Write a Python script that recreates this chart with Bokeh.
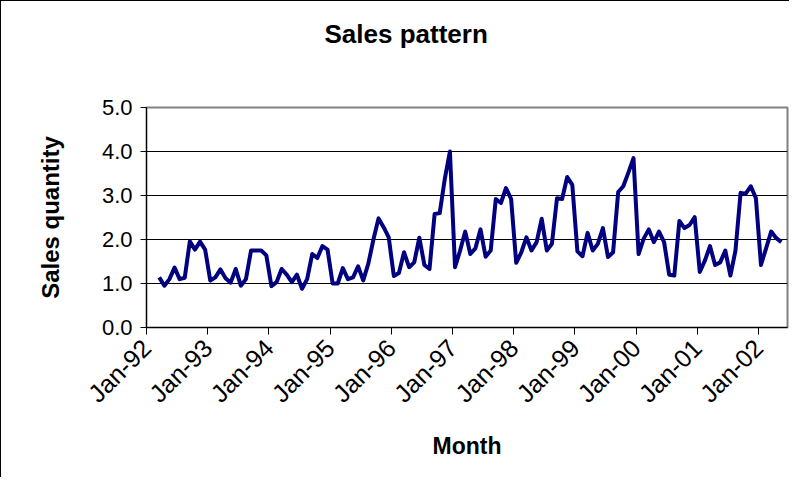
import pandas as pd
from bokeh.plotting import figure
from bokeh.models import Range1d, FixedTicker, NumeralTickFormatter, Title, ColumnDataSource
from bokeh.embed import file_html
from bokeh.resources import INLINE
from math import pi

# ---- data ----
start_month = "1992-03"
sales = [
    1.14, 0.95, 1.10, 1.36, 1.10, 1.13, 1.96, 1.77, 1.95, 1.77, 1.07, 1.14, 1.32, 1.12, 1.02, 1.33, 0.95, 1.10, 1.75, 1.75,
    1.75, 1.64, 0.94, 1.03, 1.33, 1.20, 1.03, 1.20, 0.88, 1.10, 1.67, 1.58, 1.85, 1.77, 1.00, 1.00, 1.35, 1.10, 1.14, 1.39, 1.07,
    1.45, 2.00, 2.48, 2.28, 2.05, 1.17, 1.24, 1.71, 1.37, 1.48, 2.04, 1.42, 1.33, 2.58, 2.60, 3.38, 4.00, 1.37, 1.75, 2.18, 1.67,
    1.80, 2.23, 1.61, 1.75, 2.92, 2.83, 3.17, 2.92, 1.47, 1.71, 2.05, 1.75, 1.94, 2.47, 1.75, 1.90, 2.94, 2.92, 3.42, 3.24, 1.73,
    1.62, 2.15, 1.75, 1.90, 2.26, 1.60, 1.71, 3.08, 3.21, 3.52, 3.85, 1.67, 2.02, 2.23, 1.94, 2.18, 1.94, 1.20, 1.18, 2.42, 2.26,
    2.33, 2.51, 1.26, 1.52, 1.85, 1.42, 1.48, 1.75, 1.18, 1.75, 3.06, 3.04, 3.21, 2.94, 1.42, 1.80, 2.18, 2.03, 1.94,
]
tick_years = [1992, 1993, 1994, 1995, 1996, 1997, 1998, 1999, 2000, 2001, 2002]
tick_labels = ["Jan-92", "Jan-93", "Jan-94", "Jan-95", "Jan-96", "Jan-97",
               "Jan-98", "Jan-99", "Jan-00", "Jan-01", "Jan-02"]
y_ticks = [0, 1, 2, 3, 4, 5]

months = pd.period_range(start_month, periods=len(sales), freq="M")
base_year = tick_years[0]
# month index since Jan of base year, plotted at middle of month
x = [(m.year - base_year) * 12 + (m.month - 1) + 0.5 for m in months]
src = ColumnDataSource(dict(x=x, y=sales))

tick_pos = [(yr - base_year) * 12 for yr in tick_years]

FONT = "Liberation Sans"

p = figure(width=789, height=477, output_backend="svg", toolbar_location=None, title=None,
           x_range=Range1d(0, 125.7), y_range=Range1d(0, 5),
           min_border_left=145, min_border_right=3, min_border_top=106, min_border_bottom=151)
p.styles = {"border-left": "1px solid black", "border-top": "1px solid black"}

p.line("x", "y", source=src, line_color="#000080", line_width=4, line_join="round")

p.background_fill_color = "white"
p.border_fill_color = "white"
p.outline_line_color = "#808080"
p.outline_line_width = 2

p.xgrid.grid_line_color = None
p.ygrid.grid_line_color = "black"
p.ygrid.grid_line_width = 1

# y axis
p.yaxis.ticker = FixedTicker(ticks=y_ticks)
p.yaxis.formatter = NumeralTickFormatter(format="0.0")
p.yaxis.major_tick_out = 6
p.yaxis.major_tick_in = 0
p.yaxis.minor_tick_line_color = None
p.yaxis.axis_line_color = "black"
p.yaxis.major_label_text_font = FONT
p.yaxis.major_label_text_font_size = "22px"
p.yaxis.major_label_text_color = "black"
p.yaxis.major_label_standoff = 8
p.yaxis.axis_label = "Sales quantity"
p.yaxis.axis_label_text_font = FONT
p.yaxis.axis_label_text_font_size = "24px"
p.yaxis.axis_label_text_font_style = "bold"
p.yaxis.axis_label_text_color = "black"
p.yaxis.axis_label_standoff = 35

# x axis
p.xaxis.ticker = FixedTicker(ticks=tick_pos)
p.xaxis.major_label_overrides = {pos: lab for pos, lab in zip(tick_pos, tick_labels)}
p.xaxis.major_label_orientation = pi / 4
p.xaxis.major_tick_out = 7
p.xaxis.major_tick_in = 0
p.xaxis.minor_tick_line_color = None
p.xaxis.axis_line_color = "black"
p.xaxis.major_label_text_font = FONT
p.xaxis.major_label_text_font_size = "25px"
p.xaxis.major_label_text_color = "black"
p.xaxis.major_label_standoff = 9
p.xaxis.axis_label = "Month"
p.xaxis.axis_label_text_font = FONT
p.xaxis.axis_label_text_font_size = "23px"
p.xaxis.axis_label_text_font_style = "bold"
p.xaxis.axis_label_text_color = "black"
p.xaxis.axis_label_standoff = 13

# spacer (inner) + real title (outer)
spacer = Title(text=" ", text_font_size="10px", standoff=40)
p.add_layout(spacer, "above")
title = Title(text="Sales pattern", text_font=FONT, text_font_size="26px", text_font_style="bold",
              text_color="black", align="left", offset=178, vertical_align="middle")
p.add_layout(title, "above")

open("out.html", "w").write(file_html(p, INLINE))
